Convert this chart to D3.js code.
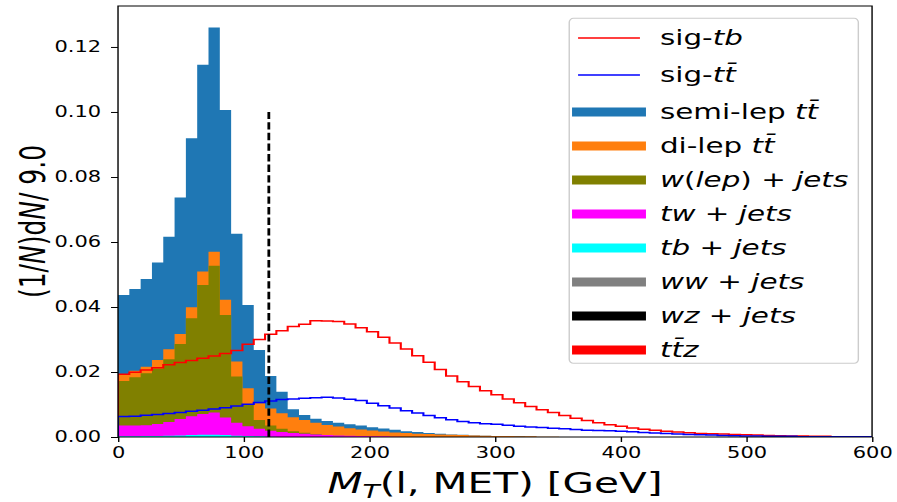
<!DOCTYPE html>
<html>
<head>
<meta charset="utf-8">
<script src="https://cdn.jsdelivr.net/npm/d3@7"></script>
<style>
  body { margin: 0; background: #fff; }
  svg { display: block; }
</style>
</head>
<body>
<svg id="chart" width="897" height="502"></svg>
<script>
// histogram bins are 9 GeV wide, values are (1/N) dN per bin
const binWidth = 9;
const xTicks = [0, 100, 200, 300, 400, 500, 600];
const yTicks = [0, 0.02, 0.04, 0.06, 0.08, 0.10, 0.12];
const cutValue = 120;
const cutHeight = 0.10;

const semiLep = [0.0437, 0.0455, 0.0486, 0.0537, 0.0616, 0.0737, 0.0919, 0.1145, 0.1260, 0.1006,
  0.0625, 0.0406, 0.0268, 0.0188, 0.0139, 0.0085, 0.0068, 0.0056, 0.0049, 0.0044,
  0.0039, 0.0035, 0.0030, 0.0026, 0.0022, 0.0018, 0.0015, 0.0012, 0.0010, 0.0008,
  0.0007, 0.0005, 0.0004, 0.0003, 0.0002, 0.0002, 0.0001];
const diLep = [0.0193, 0.0204, 0.0216, 0.0237, 0.0270, 0.0317, 0.0399, 0.0509, 0.0570, 0.0422,
  0.0232, 0.0150, 0.0104, 0.0088, 0.0073, 0.0061, 0.0052, 0.0044, 0.0037, 0.0032,
  0.0027, 0.0023, 0.0020, 0.0017, 0.0014, 0.0012, 0.0010, 0.0009, 0.0008, 0.0007,
  0.0006, 0.0005, 0.0004, 0.0003, 0.0003, 0.0002, 0.0002, 0.0001, 0.0001];
const wJets = [0.0172, 0.0184, 0.0196, 0.0211, 0.0239, 0.0286, 0.0365, 0.0468, 0.0527, 0.0375,
  0.0186, 0.0100, 0.0052, 0.0035, 0.0025, 0.0018, 0.0013, 0.0009, 0.0006, 0.0004,
  0.0003, 0.0002, 0.0001];
const twJets = [0.0035, 0.0035, 0.0036, 0.0040, 0.0046, 0.0055, 0.0064, 0.0071, 0.0075, 0.0060,
  0.0044, 0.0033, 0.0025, 0.0019, 0.0015, 0.0012, 0.0010, 0.0008, 0.0006, 0.0005,
  0.0004, 0.0003, 0.0002, 0.0002, 0.0001];
const tbJets = [0.0002, 0.0002, 0.0003, 0.0003, 0.0004, 0.0005, 0.0006, 0.0007, 0.0007, 0.0006,
  0.0004, 0.0003, 0.0002, 0.0001];
const wwJets = [];
const wzJets = [];
const ttz = [];

const sigTb = [0.0193, 0.0199, 0.0206, 0.0213, 0.0222, 0.0229, 0.0235, 0.0242, 0.0249, 0.0257,
  0.0266, 0.0285, 0.0300, 0.0316, 0.0327, 0.0340, 0.0347, 0.0358, 0.0357, 0.0355,
  0.0348, 0.0336, 0.0324, 0.0307, 0.0289, 0.0271, 0.0250, 0.0230, 0.0208, 0.0188,
  0.0170, 0.0155, 0.0142, 0.0130, 0.0117, 0.0105, 0.0094, 0.0084, 0.0075, 0.0066,
  0.0058, 0.0051, 0.0044, 0.0038, 0.0033, 0.0028, 0.0024, 0.0021, 0.0018, 0.0015,
  0.0013, 0.0011, 0.0010, 0.0009, 0.0008, 0.0007, 0.0006, 0.0005, 0.0004, 0.0003,
  0.0003, 0.0002, 0.0002, 0.0001, 0.0001, 0.0001, 0.0001];
const sigTt = [0.0063, 0.0064, 0.0067, 0.0069, 0.0072, 0.0075, 0.0079, 0.0082, 0.0086, 0.0090,
  0.0095, 0.0101, 0.0106, 0.0111, 0.0115, 0.0117, 0.0119, 0.0121, 0.0122, 0.0120,
  0.0116, 0.0112, 0.0104, 0.0096, 0.0089, 0.0081, 0.0074, 0.0066, 0.0059, 0.0053,
  0.0048, 0.0044, 0.0041, 0.0039, 0.0036, 0.0033, 0.0031, 0.0029, 0.0027, 0.0025,
  0.0023, 0.0021, 0.0020, 0.0019, 0.0018, 0.0016, 0.0014, 0.0012, 0.0011, 0.0009,
  0.0008, 0.0007, 0.0006, 0.0005, 0.0004, 0.0003, 0.0003, 0.0002, 0.0002, 0.0002,
  0.0001, 0.0001, 0.0001, 0.0001, 0.0001, 0.0001, 0.0001];

// '*' toggles italic (mathtext look)
const T = "t\u0304";
const lineSeries = [
  { label: "sig-*tb*", values: sigTb, color: "#ff0000" },
  { label: "sig-*t" + T + "*", values: sigTt, color: "#0000ff" }
];
const fillSeries = [
  { label: "semi-lep *t" + T + "*", values: semiLep, color: "#1f77b4" },
  { label: "di-lep *t" + T + "*", values: diLep, color: "#ff7f0e" },
  { label: "*w*(*lep*) + *jets*", values: wJets, color: "#808000" },
  { label: "*tw* + *jets*", values: twJets, color: "#ff00ff" },
  { label: "*tb* + *jets*", values: tbJets, color: "#00ffff" },
  { label: "*ww* + *jets*", values: wwJets, color: "#808080" },
  { label: "*wz* + *jets*", values: wzJets, color: "#000000" },
  { label: "*t" + T + "z*", values: ttz, color: "#ff0000" }
];

// the figure is stretched horizontally, so draw in narrower units and scale
const sx = 1.4;
const font = "'DejaVu Sans', sans-serif";
const plotLeft = 84.3, plotRight = 622.9, plotTop = 6, plotBottom = 437;

const svg = d3.select("#chart");
const root = svg.append("g").attr("transform", `scale(${sx},1)`);

const x = d3.scaleLinear().domain([0, 600]).range([plotLeft, plotRight]);
const y = d3.scaleLinear().domain([0, 0.1326]).range([plotBottom, plotTop]);

root.append("clipPath").attr("id", "plotclip")
  .append("rect")
    .attr("x", plotLeft).attr("y", plotTop)
    .attr("width", plotRight - plotLeft).attr("height", plotBottom - plotTop);

const plot = root.append("g").attr("clip-path", "url(#plotclip)");

function stepPoints(values) {
  const pts = values.map((v, i) => [i * binWidth, v]);
  if (values.length) pts.push([values.length * binWidth, values[values.length - 1]]);
  return pts;
}

const area = d3.area()
  .curve(d3.curveStepAfter)
  .x(d => x(d[0]))
  .y0(y(0))
  .y1(d => y(d[1]));

const line = d3.line()
  .curve(d3.curveStepAfter)
  .x(d => x(d[0]))
  .y(d => y(d[1]));

plot.selectAll("path.fill")
  .data(fillSeries.filter(s => s.values.length))
  .enter().append("path")
    .attr("class", "fill")
    .attr("d", s => area(stepPoints(s.values)))
    .attr("fill", s => s.color)
    .attr("stroke", "none");

plot.selectAll("path.sig")
  .data(lineSeries)
  .enter().append("path")
    .attr("class", "sig")
    .attr("d", s => {
      const pts = stepPoints(s.values);
      pts.unshift([0, 0]);
      pts.push([s.values.length * binWidth, 0]);
      return line(pts);
    })
    .attr("fill", "none")
    .attr("stroke", s => s.color)
    .attr("stroke-width", 1.5);

// cut line
root.append("line")
  .attr("x1", x(cutValue)).attr("x2", x(cutValue))
  .attr("y1", y(0)).attr("y2", y(cutHeight))
  .attr("stroke", "black")
  .attr("stroke-width", 2)
  .attr("stroke-dasharray", "7.4,3.2");

// axes
const xAxis = root.append("g")
  .attr("transform", `translate(0,${plotBottom})`)
  .call(d3.axisBottom(x).tickValues(xTicks).tickSize(5).tickPadding(5).tickFormat(d3.format("d")));
const yAxis = root.append("g")
  .attr("transform", `translate(${plotLeft},0)`)
  .call(d3.axisLeft(y).tickValues(yTicks).tickSize(5).tickPadding(7).tickFormat(d3.format(".2f")));

[xAxis, yAxis].forEach(a => {
  a.select(".domain").remove();
  a.selectAll(".tick line").attr("stroke", "black").attr("stroke-width", 1);
  a.selectAll(".tick text")
    .attr("font-family", font)
    .attr("font-size", 15)
    .attr("fill", "black");
});

root.append("rect")
  .attr("x", plotLeft).attr("y", plotTop)
  .attr("width", plotRight - plotLeft).attr("height", plotBottom - plotTop)
  .attr("fill", "none")
  .attr("stroke", "black")
  .attr("stroke-width", 1);

function addRich(sel, label) {
  label.split("*").forEach((part, i) => {
    if (part === "") return;
    sel.append("tspan")
      .attr("font-style", i % 2 ? "italic" : "normal")
      .text(part);
  });
}

// axis labels
const xl = root.append("text")
  .attr("x", x(300)).attr("y", 493)
  .attr("text-anchor", "middle")
  .attr("font-family", font)
  .attr("font-size", 29);
xl.append("tspan").attr("font-style", "italic").text("M");
xl.append("tspan").attr("font-style", "italic").attr("font-size", 20).attr("dy", 5).text("T");
xl.append("tspan").attr("dy", -5).text("(l, MET) [GeV]");

const yl = root.append("text")
  .attr("transform", `translate(32,${(plotTop + plotBottom) / 2}) rotate(-90)`)
  .attr("text-anchor", "middle")
  .attr("font-family", font)
  .attr("font-size", 25);
addRich(yl, "(1/*N*)d*N*/ 9.0");

// legend
const legendEntries = lineSeries.map(s => ({ ...s, kind: "line" }))
  .concat(fillSeries.map(s => ({ ...s, kind: "patch" })));
const rowY = i => i < 2 ? 38 + i * 37 : 112 + (i - 2) * 34;

const legend = root.append("g");
legend.append("rect")
  .attr("x", 406.6).attr("y", 18.3)
  .attr("width", 206.5).attr("height", 345)
  .attr("rx", 3).attr("ry", 4)
  .attr("fill", "white")
  .attr("fill-opacity", 0.8)
  .attr("stroke", "#cccccc")
  .attr("stroke-width", 1);

legendEntries.forEach((e, i) => {
  const cy = rowY(i);
  if (e.kind === "line") {
    legend.append("line")
      .attr("x1", 412.9).attr("x2", 457.1)
      .attr("y1", cy).attr("y2", cy)
      .attr("stroke", e.color).attr("stroke-width", 1.3);
  } else {
    legend.append("rect")
      .attr("x", 408.6).attr("y", cy - 4.5)
      .attr("width", 52.8).attr("height", 9)
      .attr("fill", e.color);
  }
  const t = legend.append("text")
    .attr("x", 471.4).attr("y", cy + 7)
    .attr("font-family", font)
    .attr("font-size", 21)
    .attr("fill", "black");
  addRich(t, e.label);
});
</script>
</body>
</html>
